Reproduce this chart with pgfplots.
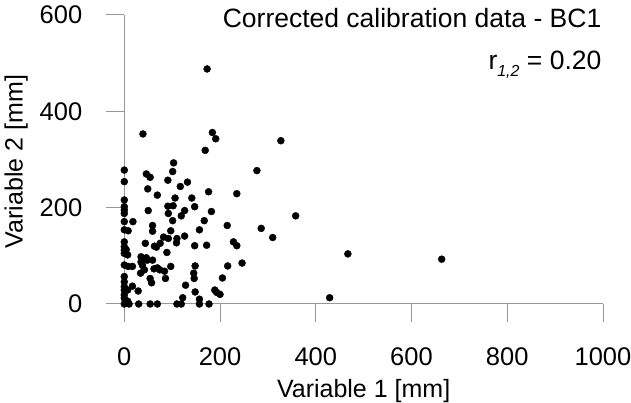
\documentclass[border=0pt]{standalone}
\usepackage{pgfplots}
\pgfplotsset{compat=1.18}
\usepackage{fontspec}
\setmainfont{Liberation Sans}
\definecolor{axgray}{RGB}{150,150,150}
\begin{document}
\fontsize{25}{30}\selectfont
\begin{tikzpicture}
\begin{axis}[
  scale only axis,
  width=478.7pt, height=289pt,
  xmin=0, xmax=1000, ymin=0, ymax=600,
  clip=false,
  axis x line*=bottom, axis y line*=left,
  axis line style={draw=axgray, line width=1pt},
  xtick={0,200,...,1000}, ytick={0,200,...,600},
  tick align=outside,
  major tick length=18.5pt,
  every tick/.style={draw=axgray, line width=1pt},
  /pgf/number format/assume math mode=true,
  /pgf/number format/1000 sep={},
  tick label style={font=\fontsize{25.5}{30}\selectfont},
  xticklabel style={yshift=-17pt},
  yticklabel style={xshift=-15pt},
  xlabel={Variable 1 [mm]},
  ylabel={Variable 2 [mm]},
  label style={font=\fontsize{26.5}{30}\selectfont},
  every axis x label/.style={at={(axis description cs:0.5,-0.232)}, anchor=north},
  every axis y label/.style={at={(axis description cs:-0.226,0.493)}, anchor=center, rotate=90},
]
\addplot[only marks, mark=*, mark size=3.5pt, black] table {
x y
0 278
0 254
0 216
0 202
0 195
0 188
0 171
0 154
0 129
0 119
0 112
0 105
0 81
0 57
0 46
0 36
0 29
0 19
0 12
0 0
173 488
39 353
184 356
191 343
169 319
327 339
103 293
277 277
101 275
46 270
54 263
91 257
132 253
117 244
49 239
69 226
176 233
235 229
141 220
106 220
91 203
147 202
102 204
50 194
126 194
182 192
92 188
119 183
358 183
18 171
101 173
167 173
59 163
215 163
8 152
59 151
157 154
286 157
97 152
82 139
126 141
92 136
110 136
310 138
44 126
109 127
228 129
63 120
75 126
147 121
172 122
235 121
4 113
7 102
89 107
467 104
67 118
35 98
663 93
46 96
48 91
59 91
35 87
38 80
148 79
216 79
246 85
97 78
8 78
17 78
62 73
69 75
74 71
42 71
84 68
34 64
145 64
146 53
205 54
54 53
86 53
57 44
128 39
17 37
7 29
29 27
189 29
148 25
193 24
200 20
122 13
429 13
157 10
7 6
10 0
30 0
54 0
69 0
110 0
119 0
157 0
177 0
};
\node[anchor=base east, inner sep=0pt, font=\fontsize{26.5}{30}\selectfont] at (axis description cs:0.997,0.958) {Corrected calibration data - BC1};
\node[anchor=base east, inner sep=0pt, font=\fontsize{26.5}{30}\selectfont] at (axis description cs:0.997,0.81) {r\raisebox{-7pt}{\fontsize{16}{18}\selectfont\itshape 1,2} = 0.20};
\end{axis}
\pgfresetboundingbox
\path ([shift={(-124.3pt,-99pt)}]current axis.south west) rectangle ([shift={(28pt,15pt)}]current axis.north east);
\end{tikzpicture}
\end{document}
